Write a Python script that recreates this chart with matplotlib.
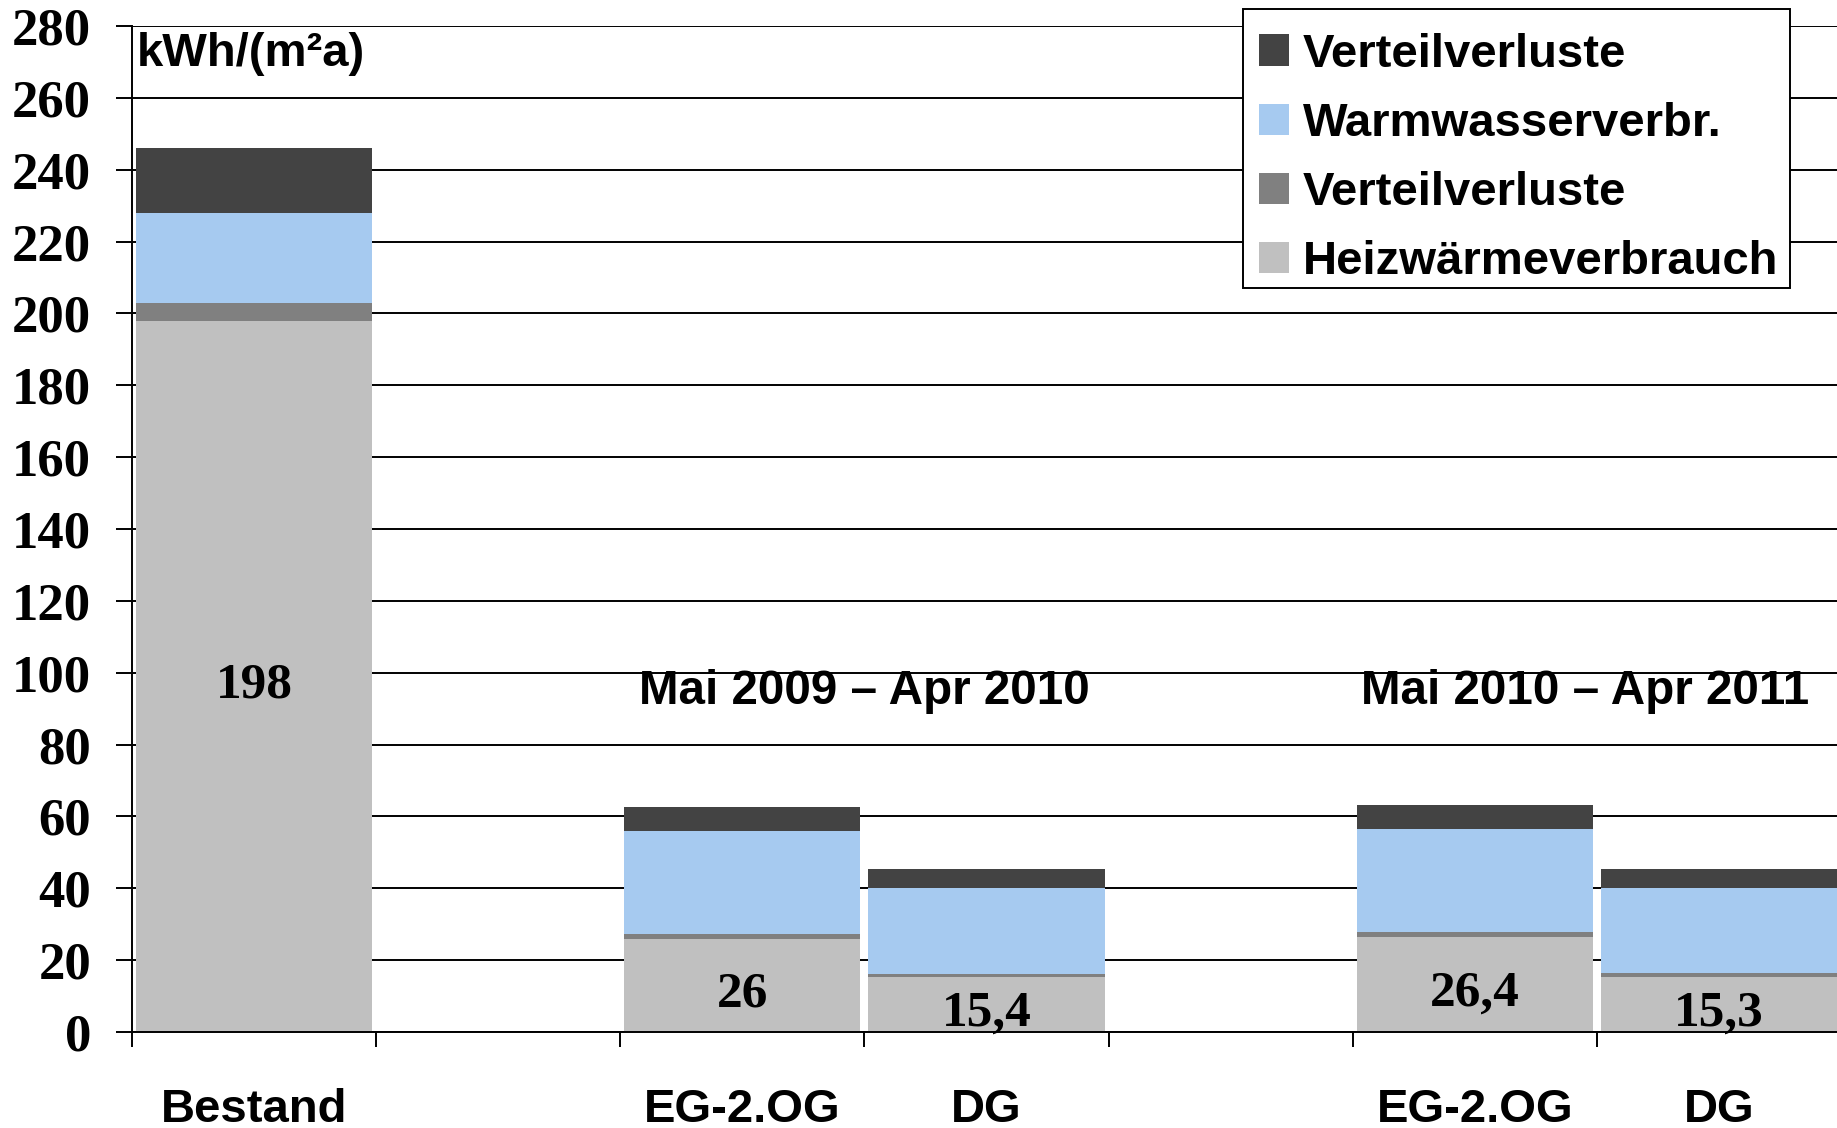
import matplotlib
matplotlib.use("Agg")
import matplotlib.pyplot as plt
from matplotlib.ticker import FixedLocator
from matplotlib.patches import Rectangle
import numpy as np

# Kategorien (leere Einträge = Lücke zwischen den Gruppen)
categories = ["Bestand", "", "EG-2.OG", "DG", "", "EG-2.OG", "DG"]

# kWh/(m²a), von unten nach oben gestapelt
heizwaerme = [198, 0, 26, 15.4, 0, 26.4, 15.3]
verteil_heiz = [5, 0, 1.3, 0.8, 0, 1.5, 1.0]
warmwasser = [25, 0, 28.7, 24.0, 0, 28.7, 23.9]
verteil_ww = [18, 0, 6.7, 5.2, 0, 6.7, 5.2]

value_labels = ["198", "", "26", "15,4", "", "26,4", "15,3"]
periods = ["Mai 2009 – Apr 2010", "Mai 2010 – Apr 2011"]
period_x = [2.5, 5.45]

SANS = "Liberation Sans"
SERIF = "Liberation Serif"
W, H = 1837, 1128

fig = plt.figure(figsize=(W / 100, H / 100), dpi=100)
ax = fig.add_axes([132 / W, 96 / H, 1709 / W, 1006 / H])

x = np.arange(len(categories))
w = 0.967
series = [
    (heizwaerme, "#c0c0c0", "Heizwärmeverbrauch"),
    (verteil_heiz, "#808080", "Verteilverluste"),
    (warmwasser, "#a6caf0", "Warmwasserverbr."),
    (verteil_ww, "#434343", "Verteilverluste"),
]
bottom = np.zeros(len(categories))
handles = []
for vals, col, lab in series:
    b = ax.bar(x, vals, w, bottom=bottom, color=col, linewidth=0, label=lab, zorder=2)
    handles.append(b)
    bottom += np.array(vals)

# Werte im Heizwärme-Segment
for xi, v, t in zip(x, heizwaerme, value_labels):
    if t:
        ax.annotate(t, (xi, v / 2), xytext=(0, -6.5), textcoords="offset points",
                    ha="center", va="center", fontsize=37, fontweight="bold",
                    family=SERIF, zorder=3)

for px, p in zip(period_x, periods):
    ax.text(px, 94.7, p, ha="center", va="center", fontsize=34.3,
            fontweight="bold", family=SANS)

ax.text(0.003, 0.994, "kWh/(m²a)", transform=ax.transAxes, ha="left", va="top",
        fontsize=34, fontweight="bold", family=SANS)

ax.set_xlim(-0.5, len(categories) - 0.5)
ax.set_ylim(0, 280)
ax.set_yticks(np.arange(0, 281, 20))
ax.yaxis.grid(True, color="black", linewidth=1.4)
ax.set_axisbelow(True)

# Striche an den Kategoriegrenzen, Beschriftung in der Mitte
ax.xaxis.set_major_locator(FixedLocator(np.arange(-0.5, len(categories), 1.0)))
ax.xaxis.set_major_formatter(plt.NullFormatter())
ax.xaxis.set_minor_locator(FixedLocator(x))
ax.set_xticklabels(categories, minor=True)
ax.tick_params(axis="x", which="major", length=11, width=1.4, direction="out")
ax.tick_params(axis="x", which="minor", length=0, pad=40)
ax.tick_params(axis="y", length=11.5, width=1.4, pad=18)

for lbl in ax.get_xticklabels(minor=True):
    lbl.set_fontsize(34)
    lbl.set_fontweight("bold")
    lbl.set_family(SANS)
for lbl in ax.get_yticklabels():
    lbl.set_fontsize(38)
    lbl.set_fontweight("bold")
    lbl.set_family(SERIF)

for s in ["top", "right"]:
    ax.spines[s].set_visible(False)
for s in ["left", "bottom"]:
    ax.spines[s].set_linewidth(1.4)

# Legende ohne eigenen Rahmen, Rahmen separat als Rechteck
leg = ax.legend(handles[::-1], [h.get_label() for h in handles[::-1]],
                loc="upper left", bbox_to_anchor=(1243 / W, 1 - 17 / H),
                bbox_transform=fig.transFigure, borderaxespad=0,
                prop={"family": SANS, "weight": "bold", "size": 34},
                handlelength=0.64, handleheight=0.64, handletextpad=0.3,
                labelspacing=0.535, borderpad=0.33, frameon=False)
leg.set_zorder(5)
ax.add_patch(Rectangle((1243 / W, 1 - 288 / H), 547 / W, 279 / H,
                       transform=fig.transFigure, facecolor="white",
                       edgecolor="black", linewidth=1.4, zorder=4,
                       clip_on=False))

fig.savefig("out.png", dpi=100)
